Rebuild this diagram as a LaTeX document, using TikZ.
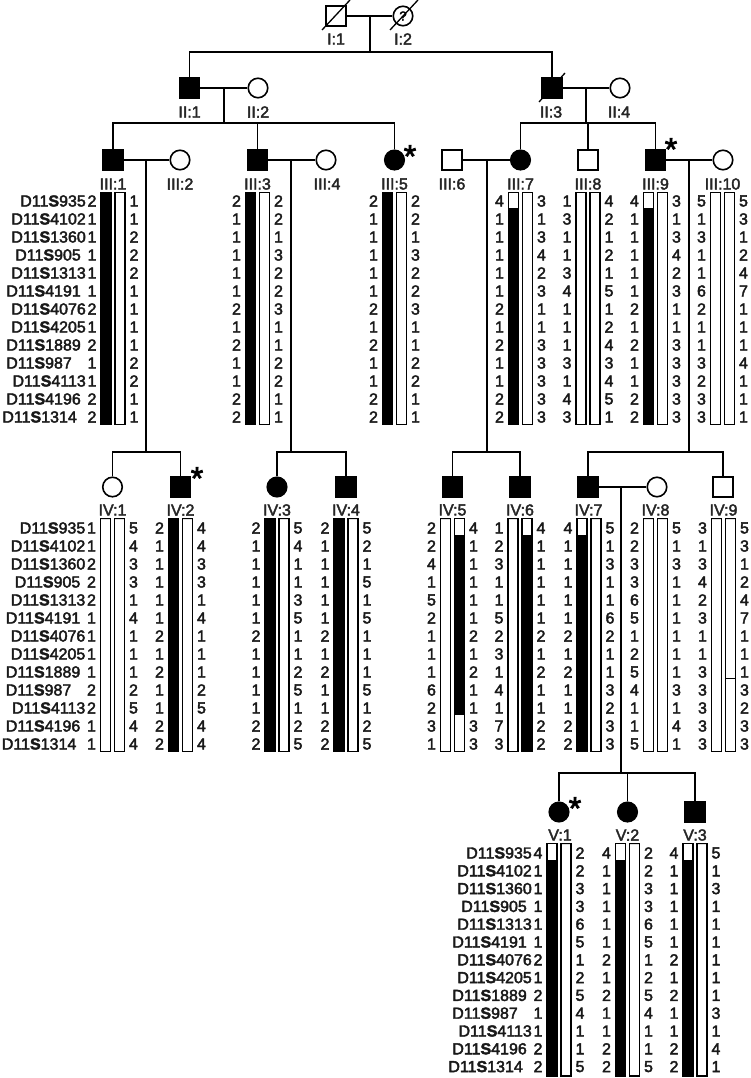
\documentclass[tikz,border=0pt]{standalone}
\usepackage{fontspec}
\setmainfont{Liberation Sans}[FakeBold=2.5]
\tikzset{
  ln/.style={line width=1.6pt},
  sl/.style={line width=1.3pt},
  sq/.style={draw, line width=1.6pt, minimum size=19.5pt, inner sep=0pt},
  ci/.style={circle, draw, line width=1.6pt, minimum size=19.5pt, inner sep=0pt},
  aff/.style={fill=black},
  lab/.style={font=\fontsize{16}{18}\selectfont, inner sep=0pt, text=black!85},
  al/.style={font=\fontsize{16}{18}\selectfont, inner sep=0pt, text=black!90},
  mk/.style={font=\fontsize{16}{18}\selectfont, inner sep=0pt, anchor=east, text=black!90},
  barl/.style={draw, line width=1.5pt},
  star/.style={font=\fontsize{32}{32}\selectfont, inner sep=0pt, anchor=north},
}
% #1 name, #2 centre x, #3/#4 black span of left bar, #5 left alleles,
% #6/#7 black span of right bar, #8 right alleles
\newcommand{\haplo}[8]{%
  \fill[black] (#2-12,#3) rectangle (#2-2,#4);
  \draw[barl] (#2-12,\gT) rectangle (#2-2,\gB);
  \fill[black] (#2+2,#6) rectangle (#2+12,#7);
  \draw[barl] (#2+2,\gT) rectangle (#2+12,\gB);
  \foreach \v [count=\k from 0] in {#5} \node[al] (#1l\k) at (#2-21,\gR+\gS*\k) {\v};
  \foreach \v [count=\k from 0] in {#8} \node[al] (#1r\k) at (#2+21,\gR+\gS*\k) {\v};
}
\newcommand{\mnames}[2]{%
  \foreach \m/\o [count=\k from 0] in {935/6,4102/6,1360/6,905/11,1313/6,4191/11,4076/6,4205/6,1889/11,987/20,4113/6,4196/11,1314/15}
    \node[mk] (#1\k) at (#2-\o,\gR+\gS*\k) {D11\textbf{S}\m};
}
\begin{document}
\begin{tikzpicture}[x=1pt,y=-1pt]
\useasboundingbox (0,0) rectangle (750,1078);

% ---------- Generation I ----------
\node[sq] (I1) at (336,16) {};
\node[ci] (I2) at (403,16) {\fontsize{13}{13}\selectfont ?};
\draw[sl] ([shift={(-14,14)}]I1.center) -- ([shift={(14,-16)}]I1.center);
\draw[sl] ([shift={(-13,14)}]I2.center) -- ([shift={(15,-16)}]I2.center);
\node[lab] (lI1) at (336,39) {I:1};
\node[lab] (lI2) at (403,39) {I:2};

% ---------- Generation II ----------
\node[sq,aff] (II1) at (189.5,88) {};
\node[ci] (II2) at (258,88) {};
\node[sq,aff] (II3) at (552,88) {};
\node[ci] (II4) at (620,88) {};
\draw[sl] ([shift={(-13,14)}]II3.center) -- ([shift={(13,-15)}]II3.center);
\node[lab] (lII1) at (189.5,112) {II:1};
\node[lab] (lII2) at (258,112) {II:2};
\node[lab] (lII3) at (551,112) {II:3};
\node[lab] (lII4) at (619,112) {II:4};

% ---------- Generation III ----------
\node[sq,aff] (III1) at (113,160) {};
\node[ci] (III2) at (180,160) {};
\node[sq,aff] (III3) at (257.5,160) {};
\node[ci] (III4) at (326,160) {};
\node[ci,aff] (III5) at (394.5,160) {};
\node[sq] (III6) at (452,160) {};
\node[ci,aff] (III7) at (520.5,160) {};
\node[sq] (III8) at (588,160) {};
\node[sq,aff] (III9) at (655.5,160) {};
\node[ci] (III10) at (723,160) {};
\node[lab] (lIII1) at (113,184) {III:1};
\node[lab] (lIII2) at (180,184) {III:2};
\node[lab] (lIII3) at (257.5,184) {III:3};
\node[lab] (lIII4) at (327,184) {III:4};
\node[lab] (lIII5) at (394.5,184) {III:5};
\node[lab] (lIII6) at (452,184) {III:6};
\node[lab] (lIII7) at (520.5,184) {III:7};
\node[lab] (lIII8) at (588,184) {III:8};
\node[lab] (lIII9) at (655.5,184) {III:9};
\node[lab] (lIII10) at (722.5,184) {III:10};
\node[star] (stIII5) at (410,145) {*};
\node[star] (stIII9) at (671,138) {*};

% ---------- Generation IV ----------
\node[ci] (IV1) at (112.5,487) {};
\node[sq,aff] (IV2) at (180.5,487) {};
\node[ci,aff] (IV3) at (277,487) {};
\node[sq,aff] (IV4) at (346,487) {};
\node[sq,aff] (IV5) at (452.5,487) {};
\node[sq,aff] (IV6) at (520,487) {};
\node[sq,aff] (IV7) at (588,487) {};
\node[ci] (IV8) at (657,487) {};
\node[sq] (IV9) at (723,487) {};
\node[lab] (lIV1) at (112.5,510) {IV:1};
\node[lab] (lIV2) at (180.5,510) {IV:2};
\node[lab] (lIV3) at (277,510) {IV:3};
\node[lab] (lIV4) at (346,510) {IV:4};
\node[lab] (lIV5) at (452.5,510) {IV:5};
\node[lab] (lIV6) at (520,510) {IV:6};
\node[lab] (lIV7) at (588.5,510) {IV:7};
\node[lab] (lIV8) at (655.5,510) {IV:8};
\node[lab] (lIV9) at (723.5,510) {IV:9};
\node[star] (stIV2) at (197,467) {*};

% ---------- Generation V ----------
\node[ci,aff] (V1) at (559,812) {};
\node[ci,aff] (V2) at (627.5,812) {};
\node[sq,aff] (V3) at (695,812) {};
\node[lab] (lV1) at (560,835) {V:1};
\node[lab] (lV2) at (627.5,835) {V:2};
\node[lab] (lV3) at (695,835) {V:3};
\node[star] (stV1) at (575,797) {*};

% ---------- Pedigree connectors ----------
\coordinate (cI) at (370,16); \coordinate (sI) at (370,52);
\draw[ln] (I1) -- (I2);
\draw[ln] (cI) -- (sI);
\draw[ln] (II1) |- (sI) -| (II3);

\coordinate (cII1) at (224,88); \coordinate (sII1) at (224,123);
\draw[ln] (II1) -- (II2);
\draw[ln] (cII1) -- (sII1);
\draw[ln] (III1) |- (sII1) -| (III5);
\draw[ln] (III3) -- (III3 |- sII1);

\coordinate (cII3) at (586,88); \coordinate (sII3) at (586,123);
\draw[ln] (II3) -- (II4);
\draw[ln] (cII3) -- (sII3);
\draw[ln] (III7) |- (sII3) -| (III9);
\draw[ln] (III8) -- (III8 |- sII3);

\coordinate (cIII1) at (146,160); \coordinate (sIII1) at (146,452);
\draw[ln] (III1) -- (III2);
\draw[ln] (cIII1) -- (sIII1);
\draw[ln] (IV1) |- (sIII1) -| (IV2);

\coordinate (cIII3) at (291,160); \coordinate (sIII3) at (291,452);
\draw[ln] (III3) -- (III4);
\draw[ln] (cIII3) -- (sIII3);
\draw[ln] (IV3) |- (sIII3) -| (IV4);

\coordinate (cIII6) at (487,160); \coordinate (sIII6) at (487,452);
\draw[ln] (III6) -- (III7);
\draw[ln] (cIII6) -- (sIII6);
\draw[ln] (IV5) |- (sIII6) -| (IV6);

\coordinate (cIII9) at (689,160); \coordinate (sIII9) at (689,452);
\draw[ln] (III9) -- (III10);
\draw[ln] (cIII9) -- (sIII9);
\draw[ln] (IV7) |- (sIII9) -| (IV9);

\coordinate (cIV7) at (621,487); \coordinate (sIV7) at (621,773);
\draw[ln] (IV7) -- (IV8);
\draw[ln] (cIV7) -- (sIV7);
\draw[ln] (V1) |- (sIV7) -| (V3);
\draw[ln] (V2) -- (V2 |- sIV7);

% ---------- Haplotypes generation III ----------
\def\gT{192.5}\def\gB{424.5}\def\gR{201}\def\gS{18}\def\gF{207.5}
\mnames{mkIII}{92}
\haplo{IIIa}{113}{\gT}{\gB}{2,1,1,1,1,1,2,1,2,1,1,2,2}{\gT}{\gT}{1,1,2,2,2,1,1,1,1,2,2,1,1}
\haplo{IIIc}{257.5}{\gT}{\gB}{2,1,1,1,1,1,2,1,2,1,1,2,2}{\gT}{\gT}{2,2,1,3,2,2,3,1,1,2,2,1,1}
\haplo{IIIe}{394.5}{\gT}{\gB}{2,1,1,1,1,1,2,1,2,1,1,2,2}{\gT}{\gT}{2,2,1,3,2,2,3,1,1,2,2,1,1}
\haplo{IIIg}{520.5}{\gF}{\gB}{4,1,1,1,1,1,2,1,2,1,1,2,2}{\gT}{\gT}{3,1,3,4,2,3,1,1,3,3,3,3,3}
\haplo{IIIh}{588}{\gT}{\gT}{1,3,1,1,3,4,1,1,1,3,1,4,3}{\gT}{\gT}{4,2,1,2,1,5,1,2,4,3,4,5,1}
\haplo{IIIi}{655.5}{\gF}{\gB}{4,1,1,1,1,1,2,1,2,1,1,2,2}{\gT}{\gT}{3,1,3,4,2,3,1,1,3,3,3,3,3}
\haplo{IIIj}{722.5}{\gT}{\gT}{5,1,3,1,1,6,2,1,1,3,2,3,3}{\gT}{\gT}{5,3,1,2,4,7,1,1,1,4,1,1,1}

% ---------- Haplotypes generation IV ----------
\def\gT{518.5}\def\gB{751.5}\def\gR{528}\def\gS{18}\def\gF{534.5}
\mnames{mkIV}{91.5}
\haplo{IVa}{112.5}{\gT}{\gT}{1,1,2,2,2,1,1,1,1,2,2,1,1}{\gT}{\gT}{5,4,3,3,1,4,1,1,1,2,5,4,4}
\haplo{IVb}{180.5}{\gT}{\gB}{2,1,1,1,1,1,2,1,2,1,1,2,2}{\gT}{\gT}{4,4,3,3,1,4,1,1,1,2,5,4,4}
\haplo{IVc}{277}{\gT}{\gB}{2,1,1,1,1,1,2,1,1,1,1,2,2}{\gT}{\gT}{5,4,1,1,3,5,1,1,2,5,1,2,5}
\haplo{IVd}{346}{\gT}{\gB}{2,1,1,1,1,1,2,1,2,1,1,2,2}{\gT}{\gT}{5,2,1,5,1,5,1,1,1,5,1,2,5}
\haplo{IVe}{452.5}{\gT}{\gT}{2,2,4,1,5,2,1,1,1,6,2,3,1}{\gF}{714.5}{4,1,1,1,1,1,2,1,2,1,1,3,3}
\haplo{IVf}{520}{\gT}{\gT}{1,2,3,1,1,5,2,3,1,4,1,7,3}{\gF}{\gB}{4,1,1,1,1,1,2,1,2,1,1,2,2}
\haplo{IVg}{589}{\gF}{\gB}{4,1,1,1,1,1,2,1,2,1,1,2,2}{\gT}{\gT}{5,1,3,1,1,6,2,1,1,3,2,3,3}
\haplo{IVh}{655.5}{\gT}{\gT}{2,2,3,3,6,5,1,2,5,4,1,1,5}{\gT}{\gT}{5,1,3,1,1,1,1,1,1,3,1,4,1}
\haplo{IVi}{723.5}{\gT}{\gT}{3,1,3,4,2,3,1,1,3,3,3,3,3}{\gT}{\gT}{5,3,1,2,4,7,1,1,1,3,2,3,3}
\draw[barl] (725.5,678.5) -- (735.5,678.5);

% ---------- Haplotypes generation V ----------
\def\gT{843.5}\def\gB{1076}\def\gR{853}\def\gS{17.8}\def\gF{859.5}
\mnames{mkV}{538}
\haplo{Va}{559}{\gF}{\gB}{4,1,1,1,1,1,2,1,2,1,1,2,2}{\gT}{\gT}{2,2,3,3,6,5,1,2,5,4,1,1,5}
\haplo{Vb}{627.5}{\gF}{\gB}{4,1,1,1,1,1,2,1,2,1,1,2,2}{\gT}{\gT}{2,2,3,3,6,5,1,2,5,4,1,1,5}
\haplo{Vc}{695}{\gF}{\gB}{4,1,1,1,1,1,2,1,2,1,1,2,2}{\gT}{\gT}{5,1,3,1,1,1,1,1,1,3,1,4,1}
\end{tikzpicture}
\end{document}
